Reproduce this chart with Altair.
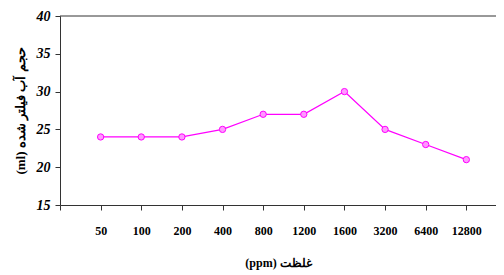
import altair as alt
import pandas as pd

categories = ["50", "100", "200", "400", "800", "1200", "1600", "3200", "6400", "12800"]
values = [24, 24, 24, 25, 27, 27, 30, 25, 23, 21]

df = pd.DataFrame({"idx": list(range(1, len(categories) + 1)), "cat": categories, "val": values})

label_arr = "[''," + ",".join("'%s'" % c for c in categories) + "]"
label_expr = label_arr + "[datum.value] || ''"

x_scale = alt.Scale(domain=[0, 10.73], nice=False, zero=False)
y_scale = alt.Scale(domain=[15, 40], nice=False, zero=False)

x_axis = alt.Axis(
    values=list(range(0, len(categories) + 1)),
    labelExpr=label_expr,
    title="(ppm) غلظت",
    titleFont="Liberation Serif",
    titleFontWeight="bold",
    titleFontSize=12,
    titlePadding=21,
    labelFont="Liberation Serif",
    labelFontWeight="bold",
    labelFontSize=12,
    labelPadding=15,
    labelAngle=0,
    labelOverlap=False,
    tickSize=5,
    tickColor="#333333",
    domainColor="#333333",
    grid=False,
    labelColor="black",
    titleColor="black",
)
y_axis = alt.Axis(
    values=[15, 20, 25, 30, 35, 40],
    title="(ml) حجم آب فیلتر شده",
    titleFont="Liberation Serif",
    titleFontWeight="bold",
    titleFontSize=13,
    titlePadding=9,
    labelFont="Liberation Serif",
    labelFontWeight="bold",
    labelFontStyle="italic",
    labelFontSize=14,
    labelPadding=5,
    labelOverlap=False,
    labelBound=False,
    tickSize=5,
    tickColor="#333333",
    domainColor="#333333",
    grid=False,
    labelColor="black",
    titleColor="black",
)

base = alt.Chart(df)
line = base.mark_line(color="#FF00FF", strokeWidth=1.2).encode(
    x=alt.X("idx:Q", scale=x_scale, axis=x_axis),
    y=alt.Y("val:Q", scale=y_scale, axis=y_axis),
)
pts = base.mark_point(filled=True, fill="#FF99FF", stroke="#FF00FF", strokeWidth=1, opacity=1, size=40).encode(
    x=alt.X("idx:Q", scale=x_scale, axis=x_axis),
    y=alt.Y("val:Q", scale=y_scale, axis=y_axis),
)
top = alt.Chart(pd.DataFrame({"y": [40]})).mark_rule(color="#333333", strokeWidth=1).encode(
    y=alt.Y("y:Q", scale=y_scale, axis=y_axis),
)

chart = alt.layer(line, pts, top).properties(
    width=436,
    height=189,
    autosize=alt.AutoSizeParams(type="none"),
    padding={"left": 52, "top": 8, "right": 0, "bottom": 70},
    background="white",
).configure_view(stroke=None).configure_axis(labelOverlap=False)

chart.save("out.html", embed_options={"renderer": "svg", "actions": False})
